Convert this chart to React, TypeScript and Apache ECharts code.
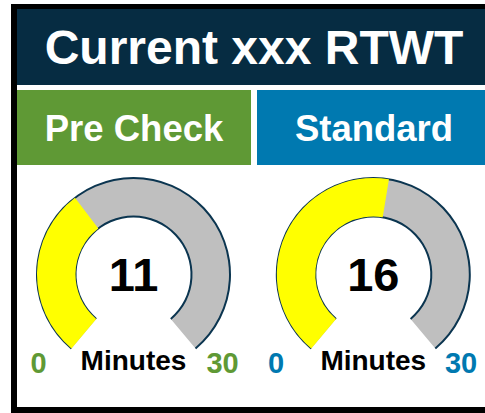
import React, { useEffect, useRef } from "react";
import * as echarts from "echarts";

const titleText = "Current xxx RTWT";
const panelNames = ["Pre Check", "Standard"];
const panelColors = ["#5f9935", "#0079b0"];
const values = [11, 16];
const unitLabel = "Minutes";
const scaleMin = 0;
const scaleMax = 30;
const tickLabels = ["0", "30"];

const FONT = "'Liberation Sans', Arial, Helvetica, sans-serif";
const NAVY = "#062c42";
const OUTLINE = "#0b3550";
const YELLOW = "#ffff00";
const GRAY = "#bfbfbf";

export default function App() {
  const ref = useRef<HTMLDivElement>(null);
  useEffect(() => {
    if (!ref.current) return;
    const chart = echarts.init(ref.current, undefined, { renderer: "svg" });

    const centersX = [133.5, 373.3];
    const cy = 274.5;
    const outerR = 96.5;
    const innerR = 58;
    const bandW = outerR - innerR;
    const startAngle = 230;
    const endAngle = -50;

    const hidden = {
      pointer: { show: false },
      axisTick: { show: false },
      splitLine: { show: false },
      axisLabel: { show: false },
      anchor: { show: false },
    };

    const series: any[] = [];
    values.forEach((v, i) => {
      const center = [centersX[i], cy];
      series.push({
        type: "gauge",
        center,
        radius: outerR,
        startAngle,
        endAngle,
        min: scaleMin,
        max: scaleMax,
        axisLine: { lineStyle: { width: bandW, color: [[1, GRAY]] } },
        progress: { show: true, width: bandW, roundCap: false, itemStyle: { color: YELLOW } },
        ...hidden,
        title: {
          offsetCenter: [0, 86],
          fontSize: 28,
          fontWeight: "bold",
          color: "#000",
          fontFamily: FONT,
        },
        detail: {
          offsetCenter: [0, 0],
          fontSize: 47,
          fontWeight: "bold",
          color: "#000",
          fontFamily: FONT,
          formatter: "{value}",
        },
        data: [{ value: v, name: unitLabel }],
      });
      [outerR + 1, innerR + 1].forEach((r) => {
        series.push({
          type: "gauge",
          center,
          radius: r,
          startAngle,
          endAngle,
          min: scaleMin,
          max: scaleMax,
          axisLine: { lineStyle: { width: 2, color: [[1, OUTLINE]] } },
          progress: { show: false },
          ...hidden,
          title: { show: false },
          detail: { show: false },
          data: [{ value: 0 }],
        });
      });
    });

    const tickPos = [
      [38.5, 222.5],
      [276, 461],
    ];

    const graphic: any[] = [
      { type: "rect", shape: { x: 11, y: 4, width: 490, height: 420 }, style: { fill: "#000" }, z: -10 },
      { type: "rect", shape: { x: 17, y: 9, width: 480, height: 398 }, style: { fill: "#fff" }, z: -9 },
      { type: "rect", shape: { x: 17, y: 9, width: 480, height: 76 }, style: { fill: NAVY }, z: -8 },
      {
        type: "text",
        x: 254,
        y: 47.5,
        style: {
          text: titleText,
          fill: "#fff",
          font: `bold 48px ${FONT}`,
          textAlign: "center",
          textVerticalAlign: "middle",
        },
      },
    ];
    const boxes = [
      { x: 17, w: 234 },
      { x: 257, w: 240 },
    ];
    panelNames.forEach((name, i) => {
      graphic.push({
        type: "rect",
        shape: { x: boxes[i].x, y: 90, width: boxes[i].w, height: 75 },
        style: { fill: panelColors[i] },
        z: -8,
      });
      graphic.push({
        type: "text",
        x: i === 0 ? 134 : 374,
        y: 128.5,
        style: {
          text: name,
          fill: "#fff",
          font: `bold 36.5px ${FONT}`,
          textAlign: "center",
          textVerticalAlign: "middle",
        },
      });
      tickLabels.forEach((t, j) => {
        graphic.push({
          type: "text",
          x: tickPos[i][j],
          y: 362.5,
          style: {
            text: t,
            fill: panelColors[i],
            font: `bold 29px ${FONT}`,
            textAlign: "center",
            textVerticalAlign: "middle",
          },
        });
      });
    });

    chart.setOption({
      animation: false,
      backgroundColor: "#fff",
      graphic,
      series,
    });
    return () => chart.dispose();
  }, []);
  return (
    <div
      ref={ref}
      style={{ position: "absolute", left: 0, top: 0, width: 485, height: 413 }}
    />
  );
}
